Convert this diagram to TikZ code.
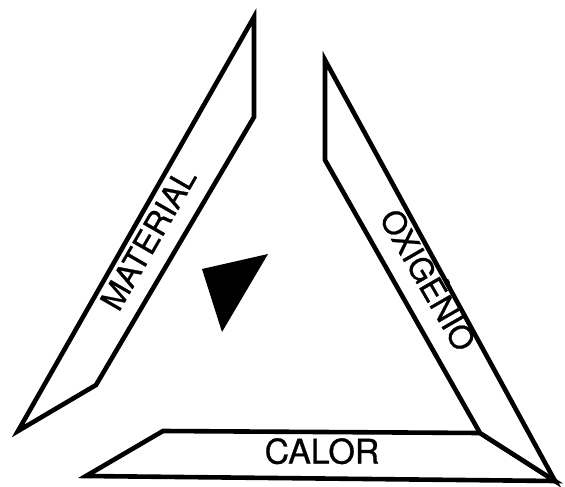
\documentclass[tikz,border=0pt]{standalone}
\usepackage{fontspec}
\setmainfont{TeX Gyre Heros}
\newfontfamily\lblfont{TeX Gyre Heros}[FakeBold=0.8]
\begin{document}
\begin{tikzpicture}[x=1pt,y=-1pt,
  bar/.style={draw=black, line width=4.6pt, line join=miter, fill=white},
  lbl/.style={inner sep=0pt, text height=0.72em, text depth=0pt, font=\lblfont\fontsize{32}{34}\selectfont}]
\useasboundingbox (0,0) rectangle (565,487);
% left bar
\coordinate (t1) at (254,17);
\coordinate (a1) at (254,117);
\coordinate (b1) at (96,385);
\coordinate (l1) at (18,431);
\draw[bar] (t1) -- (a1) -- (b1) -- (l1) -- cycle;
% bottom bar
\coordinate (l3) at (86,476);
\coordinate (u3) at (163,431);
\coordinate (c) at (480,433);
\coordinate (r) at (555,481);
\draw[bar] (l3) -- (u3) -- (c) -- (r) -- cycle;
% right bar
\coordinate (t2) at (325,60);
\coordinate (a2) at (325,160);
\draw[bar] (t2) -- (a2) -- (c) -- (r) -- cycle;
% triangle
\fill[black] (202,269) coordinate (p1) -- (268,254) coordinate (p2) -- (222,332) coordinate (p3) -- cycle;
% labels
\node[lbl, rotate=60] (mat) at (155,243) {MATERIAL};
\node[lbl, rotate=-60] (oxi) at (421,284) {OXIGÊNIO};
\node[lbl, font=\lblfont\fontsize{34}{36}\selectfont] (cal) at (322,460) {CALOR};
\end{tikzpicture}
\end{document}
